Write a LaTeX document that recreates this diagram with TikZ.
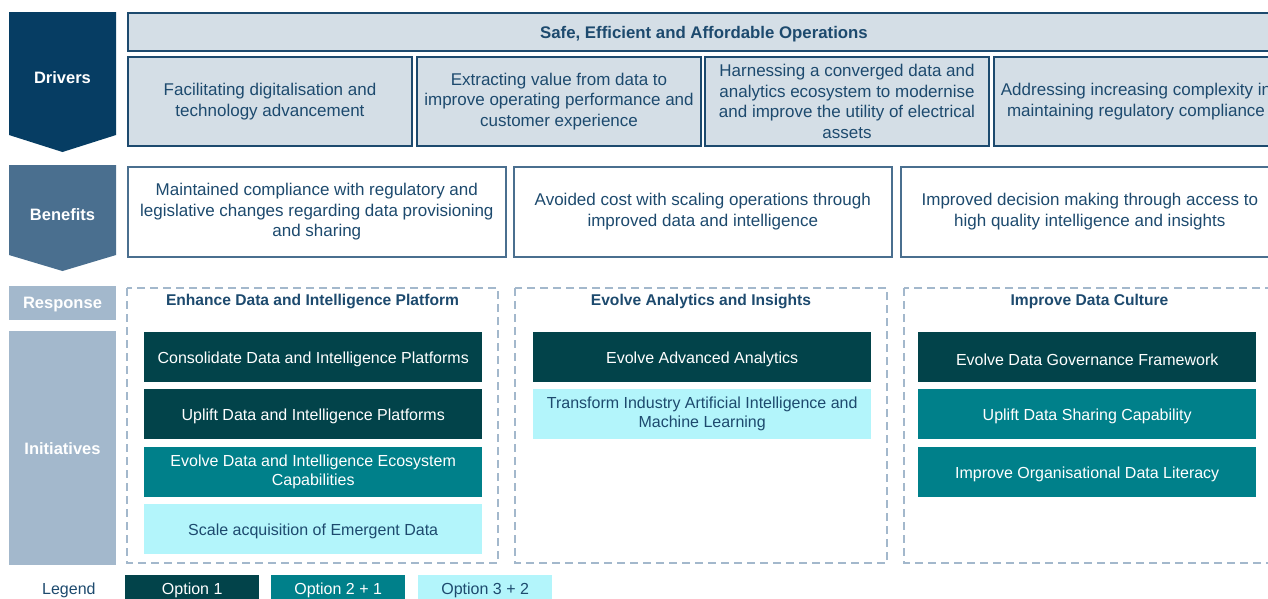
\documentclass[tikz,border=0pt]{standalone}
\usepackage{fontspec}
\setmainfont{Liberation Sans}
\usetikzlibrary{positioning}

\definecolor{navy}{HTML}{063D63}
\definecolor{steel}{HTML}{4A6F8F}
\definecolor{haze}{HTML}{A3B8CC}
\definecolor{ink}{HTML}{1D4A6E}
\definecolor{barfill}{HTML}{D4DEE6}
\definecolor{optA}{HTML}{02434A}
\definecolor{optB}{HTML}{00808A}
\definecolor{optC}{HTML}{B3F5FB}

\tikzset{
  body/.style={font=\fontsize{16}{19}\selectfont, align=center, text=ink,
    execute at begin node={\rule{0pt}{1.02em}}},
  bigbody/.style={body, font=\fontsize{17}{20.7}\selectfont},
  side/.style={font=\fontsize{16.5}{20}\selectfont\bfseries, text=white},
  drvbox/.style={bigbody, draw=ink, line width=2pt, fill=barfill, anchor=north west,
    minimum width=284, minimum height=89, inner sep=0pt},
  benbox/.style={bigbody, draw=steel, line width=1.6pt, fill=white, anchor=north west,
    minimum width=378, minimum height=90, inner sep=0pt},
  grpbox/.style={draw=haze, line width=1.8pt, dash pattern=on 8pt off 5pt},
  grptitle/.style={font=\fontsize{15.6}{18}\selectfont\bfseries, text=ink},
  optbox/.style={body, anchor=north west, minimum width=338, minimum height=50, inner sep=0pt},
  optone/.style={optbox, fill=optA, text=white},
  opttwo/.style={optbox, fill=optB, text=white},
  optthree/.style={optbox, fill=optC, text=ink},
  keybox/.style={font=\fontsize{16}{19}\selectfont, anchor=north west, minimum width=134,
    minimum height=26, inner sep=0pt, text depth=0pt}
}

\begin{document}
\begin{tikzpicture}[x=1pt,y=-1pt]
\useasboundingbox (0,0) rectangle (1268,598);
\clip (0,0) rectangle (1268,598);

% left hand row labels
\fill[navy] (9,12) -- (116,12) -- (116,135) -- (62.5,152) -- (9,135) -- cycle;
\node[side] (drivers) at (62.5,78) {Drivers};
\fill[steel] (9,165) -- (116,165) -- (116,255) -- (62.5,271) -- (9,255) -- cycle;
\node[side] (benefits) at (62.5,215) {Benefits};
\fill[haze] (9,286) rectangle (116,320);
\node[side] (response) at (62.5,304.5) {Response};
\fill[haze] (9,331) rectangle (116,565);
\node[side] (initiatives) at (62.5,449) {Initiatives};

% drivers
\node[drvbox, minimum width=1152, minimum height=38, font=\fontsize{16.8}{20}\selectfont\bfseries]
  (ops) at (127,12) {Safe, Efficient and Affordable Operations};
\node[drvbox] (drvA) at (127,56) {Facilitating digitalisation and\\technology advancement};
\node[drvbox] (drvB) at (416,56) {Extracting value from data to\\improve operating performance and\\customer experience};
\node[drvbox] (drvC) at (704,56) {Harnessing a converged data and\\analytics ecosystem to modernise\\and improve the utility of electrical\\assets};
\node[drvbox] (drvD) at (993,56) {Addressing increasing complexity in\\maintaining regulatory compliance};

% benefits
\node[benbox] (benA) at (127,166) {Maintained compliance with regulatory and\\legislative changes regarding data provisioning\\and sharing};
\node[benbox] (benB) at (513,166) {Avoided cost with scaling operations through\\improved data and intelligence};
\node[benbox] (benC) at (900,166) {Improved decision making through access to\\high quality intelligence and insights};

% response groups
\draw[grpbox] (127,288) rectangle (498,563);
\draw[grpbox] (515,288) rectangle (887,563);
\draw[grpbox] (904,288) rectangle (1275,563);
\node[grptitle] (grpA) at (312.5,301.5) {Enhance Data and Intelligence Platform};
\node[grptitle] (grpB) at (701,301.5) {Evolve Analytics and Insights};
\node[grptitle] (grpC) at (1089.5,301.5) {Improve Data Culture};

% initiatives
\node[optone] (iniA1) at (144,332) {Consolidate Data and Intelligence Platforms};
\node[optone] (iniA2) at (144,389) {Uplift Data and Intelligence Platforms};
\node[opttwo] (iniA3) at (144,447) {Evolve Data and Intelligence Ecosystem\\Capabilities};
\node[optthree] (iniA4) at (144,504) {Scale acquisition of Emergent Data};

\node[optone] (iniB1) at (533,332) {Evolve Advanced Analytics};
\node[optthree] (iniB2) at (533,389) {Transform Industry Artificial Intelligence and\\Machine Learning};

\node[optone] (iniC1) at (918,332) {Evolve Data Governance Framework};
\node[opttwo] (iniC2) at (918,389) {Uplift Data Sharing Capability};
\node[opttwo] (iniC3) at (918,447) {Improve Organisational Data Literacy};

% legend
\node[keybox, text=ink, minimum width=0pt] (legend) at (42,575) {Legend};
\node[keybox, fill=optA, text=white] (keyA) at (125,575) {Option 1};
\node[keybox, fill=optB, text=white] (keyB) at (271,575) {Option 2 + 1};
\node[keybox, fill=optC, text=ink] (keyC) at (418,575) {Option 3 + 2};

\end{tikzpicture}
\end{document}
